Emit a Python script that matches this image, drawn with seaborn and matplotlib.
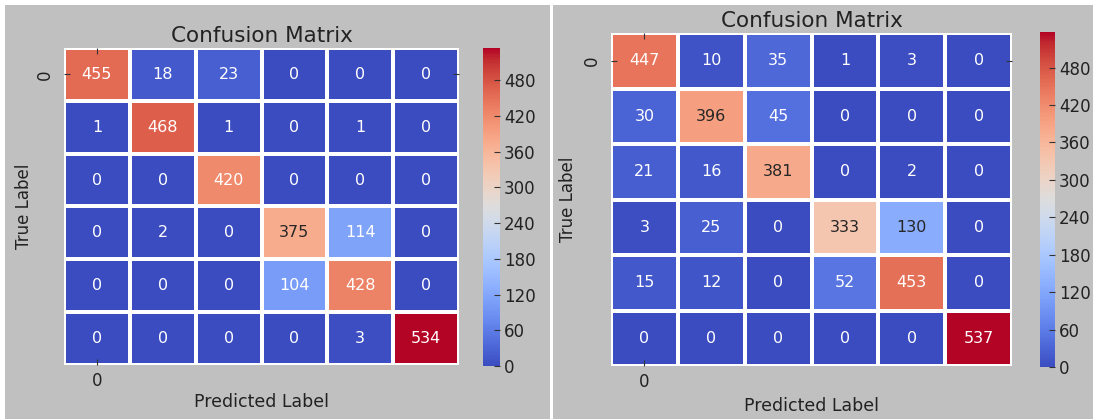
import numpy as np
import matplotlib
matplotlib.use("Agg")
import matplotlib.pyplot as plt
from matplotlib.patches import Rectangle
import seaborn as sns

# Confusion matrices for the two models (rows: true class, columns: predicted class)
left_matrix = [
    [455, 18, 23, 0, 0, 0],
    [1, 468, 1, 0, 1, 0],
    [0, 0, 420, 0, 0, 0],
    [0, 2, 0, 375, 114, 0],
    [0, 0, 0, 104, 428, 0],
    [0, 0, 0, 0, 3, 534],
]
right_matrix = [
    [447, 10, 35, 1, 3, 0],
    [30, 396, 45, 0, 0, 0],
    [21, 16, 381, 0, 2, 0],
    [3, 25, 0, 333, 130, 0],
    [15, 12, 0, 52, 453, 0],
    [0, 0, 0, 0, 0, 537],
]
tick_labels = ["0"]
cbar_ticks = [0, 60, 120, 180, 240, 300, 360, 420, 480]

BG = "#c0c0c0"
TXT = "#222222"
W, H = 1093, 419

fig = plt.figure(figsize=(W / 100, H / 100), dpi=100, facecolor="white")

# grey panel backgrounds with a thin white gap between them
fig.patches.append(Rectangle((5 / W, 0), 545 / W, 414 / H,
                             transform=fig.transFigure, facecolor=BG,
                             edgecolor="none", zorder=-10))
fig.patches.append(Rectangle((553 / W, 0), 540 / W, 414 / H,
                             transform=fig.transFigure, facecolor=BG,
                             edgecolor="none", zorder=-10))


def px_box(x0, y0, x1, y1):
    return [x0 / W, (H - y1) / H, (x1 - x0) / W, (y1 - y0) / H]


# (matrix, heatmap box, colorbar box, xlabel pad, ylabel pad)
panels = [
    (left_matrix, px_box(64, 48, 459, 365), px_box(483, 48, 500, 366), 2.5, 2.5),
    (right_matrix, px_box(611, 33, 1012, 366), px_box(1040, 32, 1055, 367), 4.5, 4.5),
]

for matrix, hm_box, cb_box, xpad, ypad in panels:
    ax = fig.add_axes(hm_box)
    cax = fig.add_axes(cb_box)
    data = np.array(matrix)
    sns.heatmap(data, ax=ax, cbar_ax=cax, cmap="coolwarm", annot=True, fmt="d",
                vmin=0, vmax=data.max(), linewidths=1.5, linecolor="white",
                xticklabels=False, yticklabels=False,
                annot_kws={"fontsize": 11.5})
    ax.set_facecolor(BG)
    ax.set_xticks([0.5])
    ax.set_xticklabels(tick_labels, fontsize=12, color=TXT)
    ax.set_yticks([0.5])
    ax.set_yticklabels(tick_labels, fontsize=12, color=TXT, rotation=90, va="center")
    ax.tick_params(direction="in", length=4, width=0.8, color="#333333",
                   top=True, right=True)
    ax.tick_params(axis="x", pad=5)
    ax.tick_params(axis="y", pad=7)
    ax.set_title("Confusion Matrix", fontsize=15.5, color=TXT, pad=4)
    ax.set_xlabel("Predicted Label", fontsize=12.5, color=TXT, labelpad=xpad)
    ax.set_ylabel("True Label", fontsize=12, color=TXT, labelpad=ypad)

    cax.set_yticks(cbar_ticks)
    cax.tick_params(direction="in", length=4, width=0.8, color="#333333",
                    labelsize=12, labelcolor=TXT, pad=3)

fig.savefig("out.png", dpi=100, facecolor="white")
